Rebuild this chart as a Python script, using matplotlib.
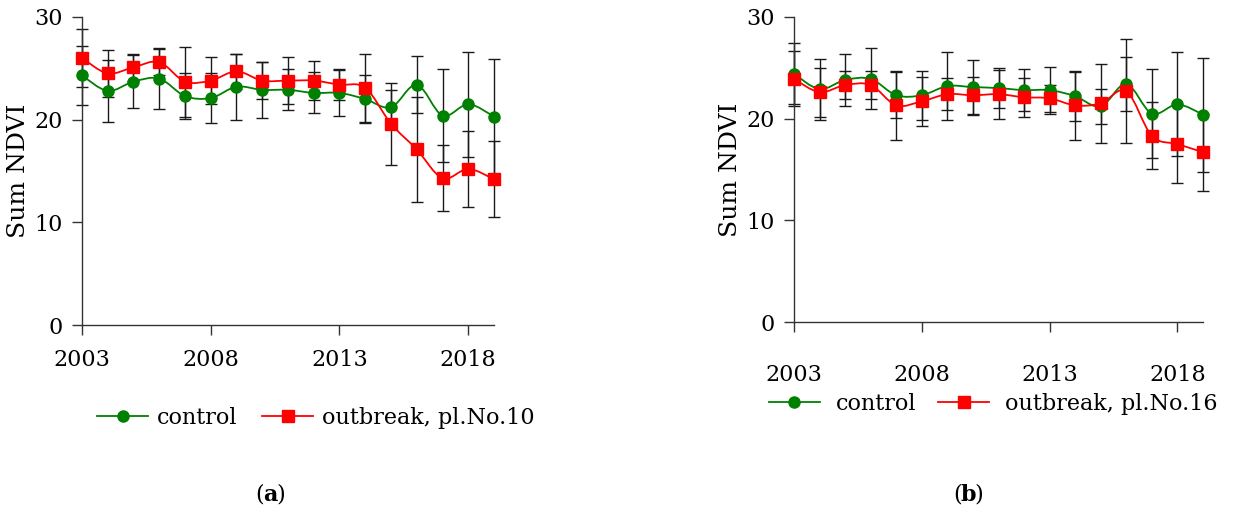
import matplotlib
matplotlib.use('Agg')
import matplotlib.pyplot as plt
import numpy as np
from matplotlib.path import Path
from matplotlib.patches import PathPatch
from matplotlib.lines import Line2D

plt.rcParams['font.family'] = ['DejaVu Serif']

years = list(range(2003, 2020))

# panel (a)
control_a = [24.3, 22.8, 23.7, 24.0, 22.3, 22.1, 23.2, 22.9, 22.9, 22.6, 22.6, 22.0, 21.2, 23.4, 20.4, 21.5, 20.3]
control_a_err = [2.9, 3.0, 2.6, 3.0, 2.2, 2.4, 3.2, 2.7, 2.0, 2.0, 2.2, 2.3, 1.7, 2.8, 4.5, 5.1, 5.6]
outbreak_a = [26.0, 24.5, 25.1, 25.6, 23.7, 23.8, 24.7, 23.8, 23.8, 23.8, 23.4, 23.1, 19.6, 17.1, 14.3, 15.2, 14.2]
outbreak_a_err = [2.8, 2.3, 1.3, 1.3, 3.4, 2.3, 1.7, 1.8, 2.3, 1.9, 1.5, 3.3, 4.0, 5.1, 3.2, 3.7, 3.7]

# panel (b)
control_b = [24.4, 22.9, 23.8, 23.9, 22.3, 22.3, 23.2, 23.1, 23.0, 22.8, 22.8, 22.2, 21.2, 23.4, 20.5, 21.4, 20.4]
control_b_err = [3.0, 3.0, 2.6, 3.0, 2.25, 2.4, 3.3, 2.7, 2.0, 2.1, 2.3, 2.4, 1.75, 2.7, 4.4, 5.1, 5.6]
outbreak_b = [23.9, 22.6, 23.3, 23.3, 21.3, 21.7, 22.4, 22.3, 22.4, 22.1, 22.0, 21.3, 21.5, 22.7, 18.3, 17.5, 16.7]
outbreak_b_err = [2.7, 2.4, 1.4, 1.35, 3.4, 2.4, 1.55, 1.8, 2.4, 1.9, 1.35, 3.4, 3.9, 5.1, 3.3, 3.8, 3.8]

year_ticks = [2003, 2008, 2013, 2018]
GREEN = '#008000'
RED = '#ff0000'
FS = 16


def smooth_path(x, y):
    # bezier smoothing like a spreadsheet "smoothed line"
    x = np.asarray(x, float)
    y = np.asarray(y, float)
    pts = np.column_stack([x, y])
    verts = [pts[0]]
    codes = [Path.MOVETO]
    n = len(pts)
    for i in range(n - 1):
        p0 = pts[i - 1] if i > 0 else pts[i]
        p1 = pts[i]
        p2 = pts[i + 1]
        p3 = pts[i + 2] if i + 2 < n else pts[i + 1]
        c1 = p1 + (p2 - p0) / 6.0
        c2 = p2 - (p3 - p1) / 6.0
        verts += [c1, c2, p2]
        codes += [Path.CURVE4] * 3
    return Path(verts, codes)


def panel(ax, ctrl, ctrl_err, outb, outb_err, xpad):
    for vals, errs in [(ctrl, ctrl_err), (outb, outb_err)]:
        eb = ax.errorbar(years, vals, yerr=errs, fmt='none', ecolor='#1a1a1a',
                         elinewidth=1.0, capsize=4.5, capthick=1.0, zorder=2)
        for art in eb.lines[1] + eb.lines[2]:
            art.set_clip_on(False)
    ax.add_patch(PathPatch(smooth_path(years, ctrl), fill=False, edgecolor=GREEN, lw=1.3, zorder=3))
    ax.add_patch(PathPatch(smooth_path(years, outb), fill=False, edgecolor=RED, lw=1.3, zorder=3))
    ax.plot(years, ctrl, ls='none', marker='o', ms=8, color=GREEN, zorder=4, clip_on=False)
    ax.plot(years, outb, ls='none', marker='s', ms=9, color=RED, zorder=5, clip_on=False)
    ax.set_xlim(2003, 2019)
    ax.set_ylim(0, 30)
    ax.set_yticks([0, 10, 20, 30])
    ax.set_xticks(year_ticks)
    ax.spines['top'].set_visible(False)
    ax.spines['right'].set_visible(False)
    for s in ['left', 'bottom']:
        ax.spines[s].set_color('#333333')
        ax.spines[s].set_linewidth(1.0)
    ax.tick_params(axis='y', direction='out', length=7, width=1.0, color='#333333',
                   labelsize=FS, pad=7)
    ax.tick_params(axis='x', direction='out', length=7, width=1.0, color='#333333',
                   labelsize=FS, pad=xpad)
    ax.set_ylabel('Sum NDVI', fontsize=18, labelpad=3)


fig = plt.figure(figsize=(12.36, 5.12), dpi=100)
ax1 = fig.add_axes([0.0663, 0.365, 0.3334, 0.602])
ax2 = fig.add_axes([0.6424, 0.371, 0.3309, 0.596])
panel(ax1, control_a, control_a_err, outbreak_a, outbreak_a_err, 10)
panel(ax2, control_b, control_b_err, outbreak_b, outbreak_b_err, 23)

h_ctrl = Line2D([], [], color=GREEN, marker='o', ms=8, lw=1.3)
h_out = Line2D([], [], color=RED, marker='s', ms=9, lw=1.3)

fig.legend([h_ctrl, h_out], ['control', 'outbreak, pl.No.10'], loc='center',
           bbox_to_anchor=(316 / 1236, 1 - 418 / 512), ncol=2, frameon=False,
           fontsize=FS, handlelength=2.3, handletextpad=0.4, columnspacing=1.1)
fig.legend([h_ctrl, h_out], ['control', 'outbreak, pl.No.16'], loc='center',
           bbox_to_anchor=(993 / 1236, 1 - 404 / 512), ncol=2, frameon=False,
           fontsize=FS, handlelength=2.3, handletextpad=0.7, columnspacing=1.0)

for cx, letter in [(270, 'a'), (968, 'b')]:
    y = 1 - 495 / 512
    fig.text((cx - 6) / 1236, y, '(', ha='right', va='center', fontsize=FS)
    fig.text(cx / 1236, y, letter, ha='center', va='center', fontsize=FS, fontweight='bold')
    fig.text((cx + 6) / 1236, y, ')', ha='left', va='center', fontsize=FS)

fig.savefig('out.png', dpi=100)
